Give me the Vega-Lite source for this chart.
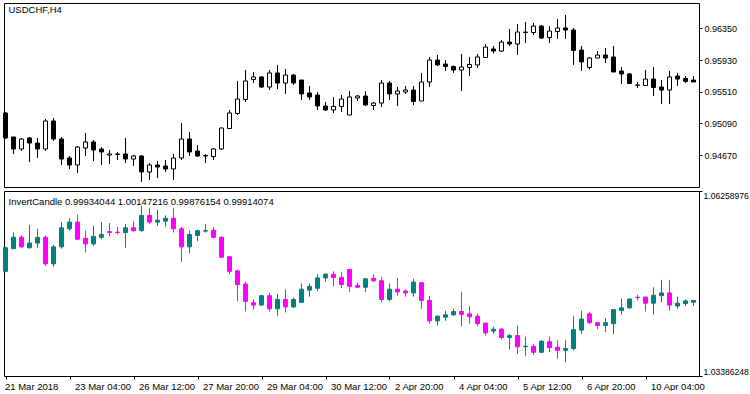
{
  "$schema": "https://vega.github.io/schema/vega-lite/v6.json",
  "padding": {"left": 2, "top": 2, "right": 0, "bottom": 0},
  "background": "white",
  "spacing": 2,
  "resolve": {"scale": {"x": "independent", "y": "independent"}},
  "config": {
    "font": "Liberation Sans",
    "view": {"stroke": "black", "strokeWidth": 1},
    "axis": {"domain": false, "grid": false, "tickColor": "black", "labelColor": "black", "labelFont": "Liberation Sans", "tickSize": 3, "labelPadding": 2, "labelFlush": false, "labelOverlap": false, "labelBound": false, "title": null}
  },
  "data": {"values": [
    {"i":1,"o":0.95228,"h":0.95241,"l":0.94883,"c":0.94897,"io":1.05011,"ih":1.05392,"il":1.04997,"ic":1.05378},
    {"i":2,"o":0.94910,"h":0.94910,"l":0.94685,"c":0.94751,"io":1.05363,"ih":1.05614,"il":1.05363,"ic":1.05540},
    {"i":3,"o":0.94751,"h":0.94897,"l":0.94724,"c":0.94883,"io":1.05540,"ih":1.05569,"il":1.05378,"ic":1.05392},
    {"i":4,"o":0.94897,"h":0.94910,"l":0.94579,"c":0.94830,"io":1.05378,"ih":1.05732,"il":1.05363,"ic":1.05451},
    {"i":5,"o":0.94830,"h":0.94897,"l":0.94632,"c":0.94751,"io":1.05451,"ih":1.05673,"il":1.05378,"ic":1.05540},
    {"i":6,"o":0.94751,"h":0.95148,"l":0.94724,"c":0.95122,"io":1.05540,"ih":1.05569,"il":1.05099,"ic":1.05128},
    {"i":7,"o":0.95122,"h":0.95162,"l":0.94857,"c":0.94883,"io":1.05128,"ih":1.05422,"il":1.05084,"ic":1.05392},
    {"i":8,"o":0.94883,"h":0.94910,"l":0.94539,"c":0.94618,"io":1.05392,"ih":1.05776,"il":1.05363,"ic":1.05688},
    {"i":9,"o":0.94632,"h":0.94658,"l":0.94486,"c":0.94539,"io":1.05673,"ih":1.05836,"il":1.05643,"ic":1.05776},
    {"i":10,"o":0.94539,"h":0.94791,"l":0.94433,"c":0.94777,"io":1.05776,"ih":1.05895,"il":1.05496,"ic":1.05510},
    {"i":11,"o":0.94764,"h":0.94963,"l":0.94658,"c":0.94844,"io":1.05525,"ih":1.05643,"il":1.05304,"ic":1.05437},
    {"i":12,"o":0.94844,"h":0.94870,"l":0.94592,"c":0.94738,"io":1.05437,"ih":1.05717,"il":1.05407,"ic":1.05555},
    {"i":13,"o":0.94751,"h":0.94777,"l":0.94539,"c":0.94711,"io":1.05540,"ih":1.05776,"il":1.05510,"ic":1.05584},
    {"i":14,"o":0.94671,"h":0.94738,"l":0.94552,"c":0.94685,"io":1.05628,"ih":1.05762,"il":1.05555,"ic":1.05614},
    {"i":15,"o":0.94679,"h":0.94711,"l":0.94605,"c":0.94685,"io":1.05620,"ih":1.05702,"il":1.05584,"ic":1.05614},
    {"i":16,"o":0.94685,"h":0.94897,"l":0.94565,"c":0.94618,"io":1.05614,"ih":1.05747,"il":1.05378,"ic":1.05688},
    {"i":17,"o":0.94618,"h":0.94671,"l":0.94526,"c":0.94658,"io":1.05688,"ih":1.05791,"il":1.05628,"ic":1.05643},
    {"i":18,"o":0.94658,"h":0.94671,"l":0.94314,"c":0.94446,"io":1.05643,"ih":1.06029,"il":1.05628,"ic":1.05880},
    {"i":19,"o":0.94446,"h":0.94565,"l":0.94340,"c":0.94539,"io":1.05880,"ih":1.05999,"il":1.05747,"ic":1.05776},
    {"i":20,"o":0.94539,"h":0.94592,"l":0.94367,"c":0.94512,"io":1.05776,"ih":1.05969,"il":1.05717,"ic":1.05806},
    {"i":21,"o":0.94526,"h":0.94605,"l":0.94446,"c":0.94486,"io":1.05791,"ih":1.05880,"il":1.05702,"ic":1.05836},
    {"i":22,"o":0.94486,"h":0.94685,"l":0.94340,"c":0.94632,"io":1.05836,"ih":1.05999,"il":1.05614,"ic":1.05673},
    {"i":23,"o":0.94632,"h":0.95095,"l":0.94605,"c":0.94883,"io":1.05673,"ih":1.05702,"il":1.05158,"ic":1.05392},
    {"i":24,"o":0.94883,"h":0.94976,"l":0.94658,"c":0.94711,"io":1.05392,"ih":1.05643,"il":1.05290,"ic":1.05584},
    {"i":25,"o":0.94724,"h":0.94804,"l":0.94645,"c":0.94658,"io":1.05569,"ih":1.05658,"il":1.05481,"ic":1.05643},
    {"i":26,"o":0.94665,"h":0.94685,"l":0.94565,"c":0.94658,"io":1.05636,"ih":1.05747,"il":1.05614,"ic":1.05643},
    {"i":27,"o":0.94651,"h":0.94764,"l":0.94605,"c":0.94751,"io":1.05651,"ih":1.05702,"il":1.05525,"ic":1.05540},
    {"i":28,"o":0.94751,"h":0.95036,"l":0.94738,"c":0.95029,"io":1.05540,"ih":1.05555,"il":1.05224,"ic":1.05231},
    {"i":29,"o":0.95022,"h":0.95268,"l":0.95016,"c":0.95228,"io":1.05238,"ih":1.05246,"il":1.04967,"ic":1.05011},
    {"i":30,"o":0.95221,"h":0.95652,"l":0.95201,"c":0.95413,"io":1.05019,"ih":1.05041,"il":1.04546,"ic":1.04807},
    {"i":31,"o":0.95407,"h":0.95797,"l":0.95374,"c":0.95652,"io":1.04814,"ih":1.04851,"il":1.04387,"ic":1.04546},
    {"i":32,"o":0.95672,"h":0.95771,"l":0.95625,"c":0.95705,"io":1.04524,"ih":1.04575,"il":1.04416,"ic":1.04488},
    {"i":33,"o":0.95705,"h":0.95718,"l":0.95559,"c":0.95572,"io":1.04488,"ih":1.04647,"il":1.04473,"ic":1.04633},
    {"i":34,"o":0.95572,"h":0.95797,"l":0.95532,"c":0.95758,"io":1.04633,"ih":1.04676,"il":1.04387,"ic":1.04430},
    {"i":35,"o":0.95758,"h":0.95864,"l":0.95546,"c":0.95625,"io":1.04430,"ih":1.04662,"il":1.04315,"ic":1.04575},
    {"i":36,"o":0.95625,"h":0.95811,"l":0.95480,"c":0.95731,"io":1.04575,"ih":1.04734,"il":1.04372,"ic":1.04459},
    {"i":37,"o":0.95731,"h":0.95745,"l":0.95599,"c":0.95625,"io":1.04459,"ih":1.04604,"il":1.04445,"ic":1.04575},
    {"i":38,"o":0.95665,"h":0.95665,"l":0.95400,"c":0.95480,"io":1.04531,"ih":1.04822,"il":1.04531,"ic":1.04734},
    {"i":39,"o":0.95493,"h":0.95586,"l":0.95400,"c":0.95440,"io":1.04720,"ih":1.04822,"il":1.04618,"ic":1.04778},
    {"i":40,"o":0.95466,"h":0.95506,"l":0.95268,"c":0.95321,"io":1.04749,"ih":1.04967,"il":1.04705,"ic":1.04909},
    {"i":41,"o":0.95321,"h":0.95374,"l":0.95254,"c":0.95268,"io":1.04909,"ih":1.04982,"il":1.04851,"ic":1.04967},
    {"i":42,"o":0.95268,"h":0.95440,"l":0.95228,"c":0.95314,"io":1.04967,"ih":1.05011,"il":1.04778,"ic":1.04916},
    {"i":43,"o":0.95314,"h":0.95466,"l":0.95241,"c":0.95413,"io":1.04916,"ih":1.04997,"il":1.04749,"ic":1.04807},
    {"i":44,"o":0.95201,"h":0.95519,"l":0.95201,"c":0.95440,"io":1.05041,"ih":1.05041,"il":1.04691,"ic":1.04778},
    {"i":45,"o":0.95427,"h":0.95466,"l":0.95387,"c":0.95453,"io":1.04793,"ih":1.04836,"il":1.04749,"ic":1.04764},
    {"i":46,"o":0.95453,"h":0.95519,"l":0.95321,"c":0.95334,"io":1.04764,"ih":1.04909,"il":1.04691,"ic":1.04895},
    {"i":47,"o":0.95327,"h":0.95374,"l":0.95268,"c":0.95360,"io":1.04902,"ih":1.04967,"il":1.04851,"ic":1.04865},
    {"i":48,"o":0.95360,"h":0.95665,"l":0.95307,"c":0.95625,"io":1.04865,"ih":1.04924,"il":1.04531,"ic":1.04575},
    {"i":49,"o":0.95625,"h":0.95652,"l":0.95400,"c":0.95480,"io":1.04575,"ih":1.04822,"il":1.04546,"ic":1.04734},
    {"i":50,"o":0.95480,"h":0.95572,"l":0.95321,"c":0.95519,"io":1.04734,"ih":1.04909,"il":1.04633,"ic":1.04691},
    {"i":51,"o":0.95506,"h":0.95586,"l":0.95480,"c":0.95532,"io":1.04705,"ih":1.04734,"il":1.04618,"ic":1.04676},
    {"i":52,"o":0.95532,"h":0.95586,"l":0.95334,"c":0.95380,"io":1.04676,"ih":1.04895,"il":1.04618,"ic":1.04844},
    {"i":53,"o":0.95387,"h":0.95758,"l":0.95387,"c":0.95639,"io":1.04836,"ih":1.04836,"il":1.04430,"ic":1.04560},
    {"i":54,"o":0.95639,"h":0.95970,"l":0.95572,"c":0.95930,"io":1.04560,"ih":1.04633,"il":1.04199,"ic":1.04243},
    {"i":55,"o":0.95930,"h":0.95996,"l":0.95850,"c":0.95864,"io":1.04243,"ih":1.04329,"il":1.04171,"ic":1.04315},
    {"i":56,"o":0.95877,"h":0.95930,"l":0.95784,"c":0.95844,"io":1.04300,"ih":1.04401,"il":1.04243,"ic":1.04336},
    {"i":57,"o":0.95844,"h":0.95857,"l":0.95758,"c":0.95797,"io":1.04336,"ih":1.04430,"il":1.04322,"ic":1.04387},
    {"i":58,"o":0.95797,"h":0.96009,"l":0.95519,"c":0.95837,"io":1.04387,"ih":1.04691,"il":1.04156,"ic":1.04343},
    {"i":59,"o":0.95831,"h":0.95970,"l":0.95718,"c":0.95870,"io":1.04351,"ih":1.04473,"il":1.04199,"ic":1.04307},
    {"i":60,"o":0.95864,"h":0.96009,"l":0.95824,"c":0.95970,"io":1.04315,"ih":1.04358,"il":1.04156,"ic":1.04199},
    {"i":61,"o":0.95963,"h":0.96142,"l":0.95956,"c":0.96102,"io":1.04207,"ih":1.04214,"il":1.04013,"ic":1.04056},
    {"i":62,"o":0.96076,"h":0.96115,"l":0.96016,"c":0.96049,"io":1.04084,"ih":1.04149,"il":1.04041,"ic":1.04113},
    {"i":63,"o":0.96049,"h":0.96195,"l":0.96036,"c":0.96168,"io":1.04113,"ih":1.04128,"il":1.03956,"ic":1.03984},
    {"i":64,"o":0.96168,"h":0.96341,"l":0.96115,"c":0.96142,"io":1.03984,"ih":1.04041,"il":1.03798,"ic":1.04013},
    {"i":65,"o":0.96142,"h":0.96407,"l":0.95996,"c":0.96301,"io":1.04013,"ih":1.04171,"il":1.03727,"ic":1.03841},
    {"i":66,"o":0.96301,"h":0.96433,"l":0.96155,"c":0.96294,"io":1.03841,"ih":1.03998,"il":1.03699,"ic":1.03848},
    {"i":67,"o":0.96294,"h":0.96420,"l":0.96261,"c":0.96380,"io":1.03848,"ih":1.03884,"il":1.03713,"ic":1.03755},
    {"i":68,"o":0.96380,"h":0.96394,"l":0.96208,"c":0.96221,"io":1.03755,"ih":1.03941,"il":1.03741,"ic":1.03927},
    {"i":69,"o":0.96228,"h":0.96380,"l":0.96155,"c":0.96314,"io":1.03920,"ih":1.03998,"il":1.03755,"ic":1.03827},
    {"i":70,"o":0.96308,"h":0.96473,"l":0.96208,"c":0.96354,"io":1.03834,"ih":1.03941,"il":1.03656,"ic":1.03784},
    {"i":71,"o":0.96354,"h":0.96526,"l":0.96208,"c":0.96327,"io":1.03784,"ih":1.03941,"il":1.03599,"ic":1.03813},
    {"i":72,"o":0.96327,"h":0.96354,"l":0.95864,"c":0.96056,"io":1.03813,"ih":1.04315,"il":1.03784,"ic":1.04106},
    {"i":73,"o":0.96062,"h":0.96115,"l":0.95784,"c":0.95904,"io":1.04099,"ih":1.04401,"il":1.04041,"ic":1.04271},
    {"i":74,"o":0.95831,"h":0.95970,"l":0.95804,"c":0.95956,"io":1.04351,"ih":1.04380,"il":1.04199,"ic":1.04214},
    {"i":75,"o":0.95956,"h":0.96049,"l":0.95956,"c":0.95996,"io":1.04214,"ih":1.04214,"il":1.04113,"ic":1.04171},
    {"i":76,"o":0.95996,"h":0.96089,"l":0.95890,"c":0.95956,"io":1.04171,"ih":1.04286,"il":1.04070,"ic":1.04214},
    {"i":77,"o":0.95970,"h":0.96115,"l":0.95771,"c":0.95771,"io":1.04199,"ih":1.04416,"il":1.04041,"ic":1.04416},
    {"i":78,"o":0.95784,"h":0.95837,"l":0.95612,"c":0.95745,"io":1.04401,"ih":1.04589,"il":1.04343,"ic":1.04445},
    {"i":79,"o":0.95745,"h":0.95758,"l":0.95612,"c":0.95619,"io":1.04445,"ih":1.04589,"il":1.04430,"ic":1.04582},
    {"i":80,"o":0.95595,"h":0.95639,"l":0.95559,"c":0.95599,"io":1.04608,"ih":1.04647,"il":1.04560,"ic":1.04604},
    {"i":81,"o":0.95592,"h":0.95797,"l":0.95592,"c":0.95678,"io":1.04611,"ih":1.04611,"il":1.04387,"ic":1.04517},
    {"i":82,"o":0.95678,"h":0.95837,"l":0.95453,"c":0.95566,"io":1.04517,"ih":1.04764,"il":1.04343,"ic":1.04640},
    {"i":83,"o":0.95572,"h":0.95665,"l":0.95347,"c":0.95532,"io":1.04633,"ih":1.04880,"il":1.04531,"ic":1.04676},
    {"i":84,"o":0.95532,"h":0.95784,"l":0.95347,"c":0.95705,"io":1.04676,"ih":1.04880,"il":1.04401,"ic":1.04488},
    {"i":85,"o":0.95718,"h":0.95758,"l":0.95586,"c":0.95678,"io":1.04473,"ih":1.04618,"il":1.04430,"ic":1.04517},
    {"i":86,"o":0.95685,"h":0.95718,"l":0.95625,"c":0.95645,"io":1.04510,"ih":1.04575,"il":1.04473,"ic":1.04553},
    {"i":87,"o":0.95665,"h":0.95718,"l":0.95639,"c":0.95639,"io":1.04531,"ih":1.04560,"il":1.04473,"ic":1.04560}
  ]},
  "vconcat": [
    {
      "width": 695,
      "height": 184,
      "layer": [
        {
          "mark": {"type": "rule", "color": "black", "strokeWidth": 1},
          "encoding": {
            "x": {"field": "i", "type": "quantitative", "scale": {"domain": [0.8125, 87.6875], "nice": false, "zero": false, "padding": 0}, "axis": null},
            "y": {"field": "l", "type": "quantitative", "scale": {"domain": [0.942474, 0.966852], "nice": false, "zero": false},
                  "axis": {"orient": "right", "values": [0.9467, 0.9509, 0.9551, 0.9593, 0.9635], "format": ".5f", "labelFontSize": 9}},
            "y2": {"field": "h"}
          }
        },
        {
          "mark": {"type": "bar", "size": 4, "stroke": "black", "strokeWidth": 1},
          "encoding": {
            "x": {"field": "i", "type": "quantitative"},
            "y": {"field": "o", "type": "quantitative"},
            "y2": {"field": "c"},
            "fill": {"condition": {"test": "datum.c > datum.o", "value": "white"}, "value": "black"}
          }
        },
        {
          "transform": [{"filter": "datum.i == 1"}],
          "mark": {"type": "text", "align": "left", "baseline": "alphabetic", "dx": 3, "dy": 10, "fontSize": 9.5, "font": "Liberation Sans", "fill": "black"},
          "encoding": {
            "x": {"field": "i", "type": "quantitative"},
            "y": {"datum": 0.966852, "type": "quantitative"},
            "text": {"value": "USDCHF,H4"}
          }
        }
      ]
    },
    {
      "width": 695,
      "height": 185,
      "layer": [
        {
          "mark": {"type": "rule", "strokeWidth": 1},
          "encoding": {
            "x": {"field": "i", "type": "quantitative", "scale": {"domain": [0.8125, 87.6875], "nice": false, "zero": false, "padding": 0},
                  "axis": {"orient": "bottom", "values": [1, 9, 17, 25, 33, 41, 49, 57, 65, 73, 81], "labelAlign": "left", "labelBaseline": "top",
                           "labelOffset": {"condition": {"test": "datum.value == 1", "value": -1}, "value": 5}, "labelFontSize": 9.5,
                           "labelExpr": "datum.value==1?'21 Mar 2018':datum.value==9?'23 Mar 04:00':datum.value==17?'26 Mar 12:00':datum.value==25?'27 Mar 20:00':datum.value==33?'29 Mar 04:00':datum.value==41?'30 Mar 12:00':datum.value==49?'2 Apr 20:00':datum.value==57?'4 Apr 04:00':datum.value==65?'5 Apr 12:00':datum.value==73?'6 Apr 20:00':'10 Apr 04:00'"}},
            "y": {"field": "il", "type": "quantitative", "scale": {"domain": [1.03386248, 1.06258976], "nice": false, "zero": false},
                  "axis": {"orient": "right", "values": [1.03386248, 1.06258976], "format": ".8f", "labelFlush": true, "labelFontSize": 8.6, "labelPadding": 1}},
            "y2": {"field": "ih"},
            "color": {"condition": {"test": "datum.ic > datum.io", "value": "#008080"}, "value": "#ff00ff"}
          }
        },
        {
          "mark": {"type": "bar", "size": 4, "strokeWidth": 1},
          "encoding": {
            "x": {"field": "i", "type": "quantitative"},
            "y": {"field": "io", "type": "quantitative"},
            "y2": {"field": "ic"},
            "fill": {"condition": {"test": "datum.ic > datum.io", "value": "#008080"}, "value": "#ff00ff"},
            "stroke": {"condition": {"test": "datum.ic > datum.io", "value": "#008080"}, "value": "#ff00ff"}
          }
        },
        {
          "transform": [{"filter": "datum.i == 1"}],
          "mark": {"type": "text", "align": "left", "baseline": "alphabetic", "dx": 3, "dy": 13.5, "fontSize": 9.5, "font": "Liberation Sans", "fill": "black"},
          "encoding": {
            "x": {"field": "i", "type": "quantitative"},
            "y": {"datum": 1.06258976, "type": "quantitative"},
            "text": {"value": "InvertCandle 0.99934044 1.00147216 0.99876154 0.99914074"}
          }
        }
      ]
    }
  ]
}
